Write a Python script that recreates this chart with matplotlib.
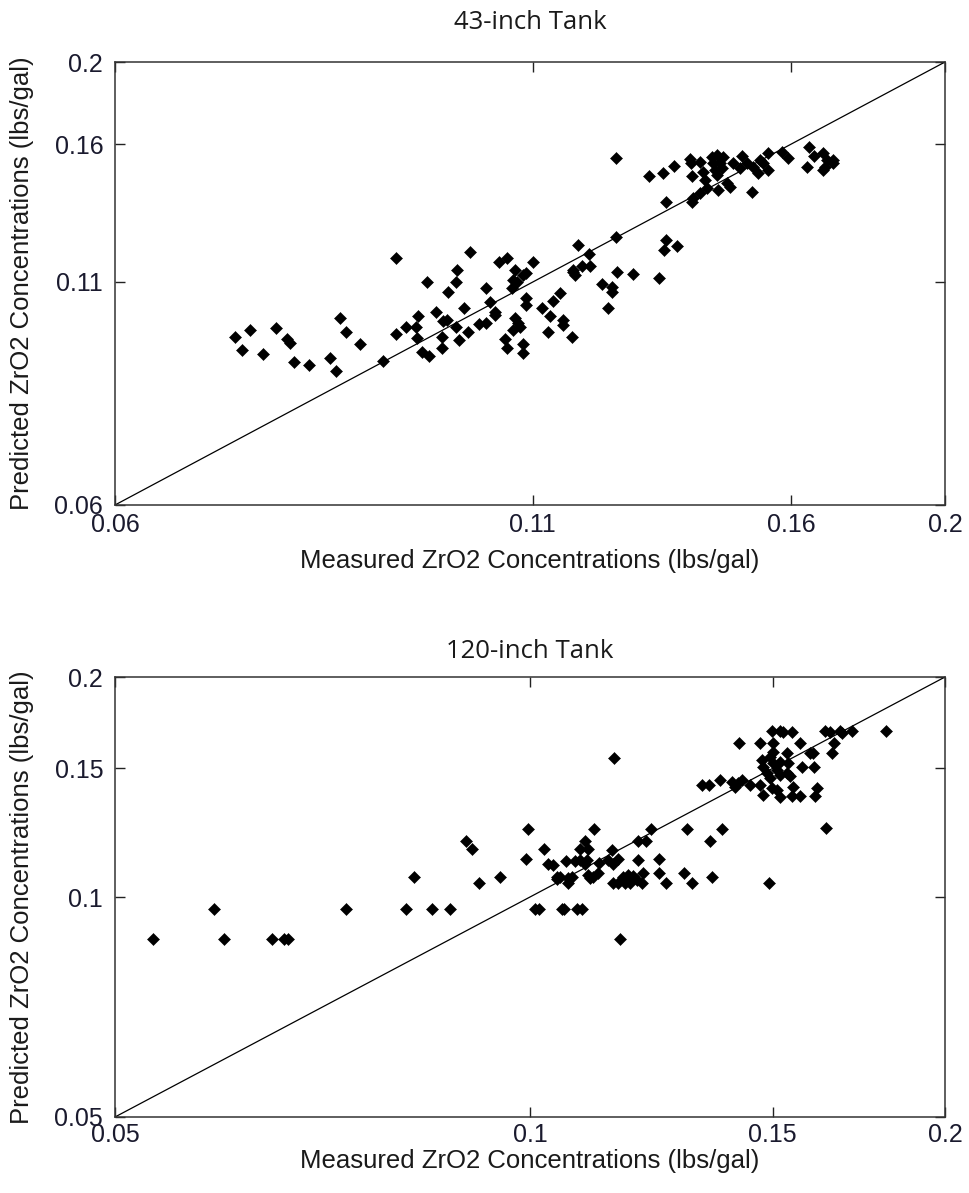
import matplotlib
matplotlib.use("Agg")
import matplotlib.pyplot as plt
from matplotlib.ticker import FixedLocator, FixedFormatter, NullLocator

# ---------------- 43-inch tank ----------------
measured_43 = [
    0.0714, 0.0721, 0.0730, 0.0744, 0.0758, 0.0770, 0.0773, 0.0778, 0.0795, 0.0820,
    0.0827, 0.0832, 0.0839, 0.0856, 0.0885, 0.0902, 0.0902, 0.0915, 0.0931, 0.0929,
    0.0930, 0.0937, 0.0946, 0.0943, 0.0956, 0.0964, 0.0964, 0.0965, 0.0971, 0.0972,
    0.0984, 0.0985, 0.0984, 0.0988, 0.0995, 0.1001, 0.1004, 0.1017, 0.1028, 0.1028,
    0.1034, 0.1041, 0.1041, 0.1047, 0.1059, 0.1072, 0.1069, 0.1067, 0.1075, 0.1084,
    0.1089, 0.1089, 0.1089, 0.1100, 0.1072, 0.1076, 0.1069, 0.1080, 0.1056, 0.1059,
    0.1084, 0.1084, 0.1115, 0.1127, 0.1133, 0.1144, 0.1149, 0.1149, 0.1124, 0.1164,
    0.1166, 0.1174, 0.1193, 0.1195, 0.1166, 0.1169, 0.1181, 0.1216, 0.1234, 0.1234,
    0.1227, 0.1243, 0.1272, 0.1321, 0.1241, 0.1241, 0.1334, 0.1330, 0.1356, 0.1334,
    0.1302, 0.1329, 0.1350, 0.1382, 0.1383, 0.1386, 0.1402, 0.1408, 0.1426, 0.1437,
    0.1449, 0.1428, 0.1443, 0.1433, 0.1447, 0.1437, 0.1412, 0.1416, 0.1402, 0.1388,
    0.1386, 0.1439, 0.1458, 0.1464, 0.1471, 0.1490, 0.1486, 0.1501, 0.1514, 0.1529,
    0.1525, 0.1547, 0.1547, 0.1536, 0.1512, 0.1579, 0.1593, 0.1643, 0.1654, 0.1637,
    0.1676, 0.1685, 0.1676, 0.1700, 0.1700, 0.1680,
]
predicted_43 = [
    0.0947, 0.0914, 0.0965, 0.0904, 0.0971, 0.0942, 0.0932, 0.0885, 0.0878, 0.0895,
    0.0864, 0.0997, 0.0960, 0.0929, 0.0887, 0.1174, 0.0955, 0.0973, 0.1003, 0.0973,
    0.0945, 0.0909, 0.0900, 0.1100, 0.1014, 0.0947, 0.0919, 0.0989, 0.0992, 0.1070,
    0.1100, 0.1136, 0.0973, 0.0939, 0.1025, 0.0960, 0.1193, 0.0981, 0.0983, 0.1082,
    0.1042, 0.1014, 0.1006, 0.1161, 0.1174, 0.1136, 0.1106, 0.1082, 0.1099, 0.1121,
    0.1127, 0.1053, 0.1033, 0.1161, 0.0997, 0.0983, 0.0965, 0.0973, 0.0942, 0.0919,
    0.0929, 0.0906, 0.1025, 0.1003, 0.1045, 0.1068, 0.0992, 0.0979, 0.0960, 0.0947,
    0.1136, 0.1216, 0.1187, 0.1149, 0.1130, 0.1121, 0.1149, 0.1094, 0.1084, 0.1070,
    0.1025, 0.1130, 0.1124, 0.1112, 0.1243, 0.1541, 0.1233, 0.1200, 0.1213, 0.1367,
    0.1467, 0.1479, 0.1508, 0.1537, 0.1520, 0.1467, 0.1524, 0.1483, 0.1545, 0.1553,
    0.1545, 0.1520, 0.1520, 0.1491, 0.1499, 0.1471, 0.1451, 0.1420, 0.1401, 0.1382,
    0.1367, 0.1412, 0.1439, 0.1424, 0.1520, 0.1549, 0.1499, 0.1520, 0.1503, 0.1533,
    0.1479, 0.1562, 0.1491, 0.1520, 0.1405, 0.1566, 0.1541, 0.1587, 0.1549, 0.1503,
    0.1562, 0.1533, 0.1491, 0.1533, 0.1520, 0.1503,
]

# ---------------- 120-inch tank ----------------
measured_120 = [
    0.0533, 0.0590, 0.0600, 0.0650, 0.0663, 0.0668, 0.0735, 0.0813, 0.0849, 0.0875,
    0.0824, 0.0899, 0.0908, 0.0918, 0.0951, 0.0997, 0.0993, 0.1024, 0.1008, 0.1015,
    0.1055, 0.1058, 0.1082, 0.1091, 0.1030, 0.1039, 0.1046, 0.1051, 0.1066, 0.1073,
    0.1066, 0.1046, 0.1062, 0.1078, 0.1087, 0.1096, 0.1100, 0.1096, 0.1102, 0.1087,
    0.1113, 0.1102, 0.1111, 0.1120, 0.1105, 0.1122, 0.1139, 0.1149, 0.1158, 0.1147,
    0.1162, 0.1149, 0.1158, 0.1168, 0.1178, 0.1182, 0.1172, 0.1196, 0.1188, 0.1206,
    0.1208, 0.1176, 0.1198, 0.1198, 0.1214, 0.1224, 0.1240, 0.1240, 0.1255, 0.1293,
    0.1311, 0.1300, 0.1351, 0.1355, 0.1378, 0.1151, 0.1491, 0.1640, 0.1333, 0.1348,
    0.1373, 0.1401, 0.1409, 0.1415, 0.1425, 0.1444, 0.1468, 0.1418, 0.1468, 0.1498,
    0.1518, 0.1526, 0.1549, 0.1501, 0.1501, 0.1570, 0.1473, 0.1476, 0.1486, 0.1493,
    0.1501, 0.1511, 0.1518, 0.1493, 0.1536, 0.1539, 0.1536, 0.1544, 0.1518, 0.1476,
    0.1498, 0.1511, 0.1518, 0.1549, 0.1570, 0.1552, 0.1575, 0.1607, 0.1596, 0.1604,
    0.1615, 0.1610, 0.1637, 0.1650, 0.1661, 0.1656, 0.1678, 0.1684, 0.1712, 0.1812,
]
predicted_120 = [
    0.0876, 0.0963, 0.0876, 0.0876, 0.0876, 0.0876, 0.0963, 0.0963, 0.0963, 0.0963,
    0.1065, 0.1193, 0.1163, 0.1045, 0.1065, 0.1239, 0.1127, 0.1163, 0.0963, 0.0963,
    0.0963, 0.0963, 0.0963, 0.0963, 0.1110, 0.1106, 0.1065, 0.1065, 0.1062, 0.1065,
    0.1045, 0.1058, 0.1120, 0.1120, 0.1124, 0.1110, 0.1124, 0.1193, 0.1163, 0.1163,
    0.1239, 0.1072, 0.1065, 0.1079, 0.1062, 0.1113, 0.1124, 0.1110, 0.1127, 0.1160,
    0.0876, 0.1045, 0.1045, 0.1065, 0.1072, 0.1045, 0.1045, 0.1055, 0.1068, 0.1045,
    0.1079, 0.1062, 0.1124, 0.1193, 0.1193, 0.1239, 0.1127, 0.1079, 0.1045, 0.1079,
    0.1045, 0.1239, 0.1193, 0.1065, 0.1239, 0.1549, 0.1045, 0.1243, 0.1423, 0.1423,
    0.1446, 0.1437, 0.1414, 0.1432, 0.1446, 0.1423, 0.1423, 0.1624, 0.1624, 0.1687,
    0.1687, 0.1682, 0.1682, 0.1624, 0.1579, 0.1624, 0.1540, 0.1506, 0.1478, 0.1553,
    0.1525, 0.1492, 0.1469, 0.1455, 0.1574, 0.1525, 0.1478, 0.1464, 0.1530, 0.1379,
    0.1410, 0.1401, 0.1370, 0.1374, 0.1374, 0.1414, 0.1506, 0.1506, 0.1574, 0.1574,
    0.1410, 0.1374, 0.1687, 0.1682, 0.1624, 0.1574, 0.1687, 0.1677, 0.1687, 0.1687,
]

titles = ["43-inch Tank", "120-inch Tank"]
limits = [(0.06, 0.2), (0.05, 0.2)]
ticks_43 = [0.06, 0.11, 0.16, 0.2]
tick_labels_43 = ["0.06", "0.11", "0.16", "0.2"]
ticks_120 = [0.05, 0.1, 0.15, 0.2]
tick_labels_120 = ["0.05", "0.1", "0.15", "0.2"]
xlabel = "Measured ZrO2 Concentrations (lbs/gal)"
ylabel = "Predicted ZrO2 Concentrations (lbs/gal)"

W, H = 969, 1193
fig = plt.figure(figsize=(W / 100, H / 100), dpi=100)
fig.patch.set_facecolor("white")

label_font = ["Liberation Sans", "DejaVu Sans"]
title_font = ["Open Sans", "DejaVu Sans"]

# (left px, top px, width px, height px, x-data, y-data, ticks, labels,
#  title pad pt, x tick pad pt, xlabel top offset px)
panels = [
    (115, 62, 830, 443, measured_43, predicted_43, ticks_43, tick_labels_43, 24.0, 6.0, 44),
    (115, 677, 830, 440, measured_120, predicted_120, ticks_120, tick_labels_120, 14.0, 4.5, 32),
]

for i, (x0, y0, w, h, xs, ys, tk, tl, tpad, xpad, xl_off) in enumerate(panels):
    ax = fig.add_axes([x0 / W, 1 - (y0 + h) / H, w / W, h / H])
    lo, hi = limits[i]
    ax.set_xscale("log")
    ax.set_yscale("log")
    ax.set_xlim(lo, hi)
    ax.set_ylim(lo, hi)
    ax.plot([lo, hi], [lo, hi], color="black", lw=0.9, zorder=2)
    ax.plot(xs, ys, linestyle="none", marker="D", markersize=5.8,
            color="black", markeredgewidth=0.4, zorder=3)
    for axis in (ax.xaxis, ax.yaxis):
        axis.set_major_locator(FixedLocator(tk))
        axis.set_major_formatter(FixedFormatter(tl))
        axis.set_minor_locator(NullLocator())
    ax.tick_params(which="major", direction="in", length=7, width=1.0,
                   top=True, right=True, labelsize=18, colors="#222222")
    ax.tick_params(axis="x", pad=xpad)
    ax.tick_params(axis="y", pad=8.5)
    for lab in ax.get_xticklabels() + ax.get_yticklabels():
        lab.set_family(label_font)
        lab.set_color("#1a1a2e")
    for sp in ax.spines.values():
        sp.set_linewidth(1.1)
        sp.set_color("#333333")
    ax.set_xlabel(xlabel, fontsize=18.5, family=label_font, color="#1a1a1a")
    ax.set_ylabel(ylabel, fontsize=18.5, family=label_font, color="#1a1a1a")
    ax.xaxis.set_label_coords(0.5, -xl_off / h)
    ax.yaxis.set_label_coords((34 - x0) / w, 0.5)
    ax.set_title(titles[i], fontsize=18.5, family=title_font, color="#1a1a1a", pad=tpad)

fig.savefig("out.png", dpi=100, facecolor="white")
